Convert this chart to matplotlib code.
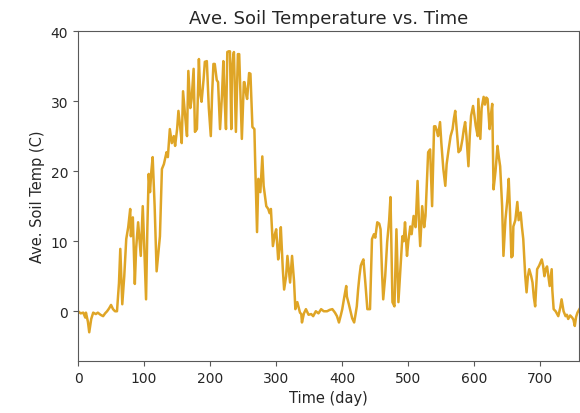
import matplotlib
matplotlib.use("Agg")
import matplotlib.pyplot as plt

# days and average soil temperature
days = [0, 4, 8, 11, 12, 15, 17, 20, 23, 27, 30, 34, 38, 41, 44, 47, 50, 53, 56, 59,
        62, 64, 67, 70, 73, 76, 79, 80, 83, 86, 88, 91, 95, 98, 100, 103, 105, 107, 109, 111,
        113, 116, 119, 124, 127, 130, 134, 136, 139, 142, 145, 147, 150, 152, 155, 157, 159, 162, 165, 167,
        170, 172, 175, 177, 180, 183, 185, 187, 190, 192, 195, 198, 201, 203, 205, 207, 210, 212, 215, 218,
        220, 222, 224, 226, 228, 230, 232, 233, 235, 236, 239, 242, 244, 248, 251, 252, 255, 256, 259, 261,
        264, 267, 268, 271, 273, 276, 279, 281, 283, 285, 288, 290, 292, 295, 298, 300, 303, 305, 307, 310,
        312, 315, 317, 319, 321, 324, 327, 329, 332, 336, 338, 339, 342, 345, 349, 353, 356, 360, 364, 368,
        372, 377, 381, 385, 389, 392, 395, 398, 400, 403, 406, 407, 410, 413, 415, 418, 420, 422, 424, 426,
        428, 430, 432, 435, 438, 442, 445, 448, 450, 453, 456, 458, 460, 462, 465, 468, 471, 473, 476, 479,
        482, 485, 488, 491, 493, 495, 498, 500, 503, 505, 508, 511, 514, 516, 518, 521, 524, 526, 528, 530,
        533, 536, 539, 541, 543, 545, 548, 550, 553, 556, 558, 561, 564, 567, 569, 571, 574, 576, 579, 582,
        584, 586, 588, 591, 593, 595, 598, 600, 602, 605, 606, 609, 611, 614, 616, 618, 620, 623, 625, 627,
        629, 632, 635, 637, 639, 642, 644, 647, 650, 652, 654, 656, 658, 659, 662, 665, 667, 670, 672, 674,
        677, 679, 681, 683, 686, 688, 690, 692, 695, 698, 702, 704, 706, 708, 710, 712, 714, 717, 718, 720,
        723, 727, 730, 732, 735, 738, 740, 742, 745, 748, 750, 752, 754, 756, 759]
temps = [0, -0.3, -0.2, -0.9, -0.2, -1.5, -3, -1.1, -0.2, -0.4, -0.2, -0.5, -0.7, -0.3, 0, 0.4, 0.9, 0.3, 0, 0,
         4, 8.9, 1, 5, 10.3, 12, 14.6, 10.7, 13.4, 3.9, 9, 12.7, 7.9, 15, 10, 1.7, 12, 19.6, 17, 20,
         22, 15, 5.7, 10.7, 20.3, 21, 22.7, 22, 26, 24, 25, 23.6, 26, 28.6, 26, 24, 31.4, 28, 25, 34.3,
         29, 30.3, 34.6, 25.6, 26, 36, 31, 29.9, 33, 35.6, 35.7, 29, 25, 31, 35.3, 35.3, 33, 32.7, 26, 31,
         35.7, 30, 26, 37, 37.1, 37.1, 26, 34, 36.4, 37, 25.6, 36.7, 36.7, 24.6, 32.7, 32.7, 30.7, 30.3, 34, 33.9,
         26.3, 26, 22, 11.3, 18.9, 17, 22.1, 17.9, 16.5, 15, 14.6, 14, 14.6, 9.3, 11, 11.7, 7.4, 9, 12, 6,
         3.1, 5, 7.9, 6, 4.1, 7.9, 4.3, 0.3, 1.3, -0.2, -0.4, -1.6, -0.3, 0.3, -0.5, -0.4, -0.7, 0, -0.3, 0.3,
         0, 0, 0.2, 0.3, -0.2, -0.7, -1.6, -0.5, 0.3, 2, 3.6, 2.1, 1, -0.2, -1, -1.6, -0.5, 0.7, 3.1, 5,
         6.5, 7, 7.4, 4, 0.3, 0.3, 10.3, 11, 10.5, 12.7, 12.5, 11.7, 6, 1.7, 5, 9.9, 13, 16.3, 1.3, 0.7,
         11.7, 1.3, 6, 10.7, 10, 12.7, 7.9, 10, 12.1, 11, 13.6, 12, 18.6, 13, 9.3, 15, 12, 13.6, 18, 22.7,
         23.1, 15, 26.4, 26.4, 25.8, 25, 27, 24, 20.3, 17.9, 21, 23.1, 25, 26, 27.5, 28.6, 25, 22.7, 23, 24.6,
         26, 27, 25, 20.7, 25, 27.9, 29.3, 28, 26.5, 25, 30.3, 24.6, 29, 30.6, 29.5, 30.5, 30.3, 26, 28, 29.6,
         17.4, 20, 23.6, 22, 20.7, 15, 7.9, 13.1, 16, 18.9, 14, 7.7, 7.9, 12.1, 13, 15.6, 13, 14.1, 12, 10.3,
         5, 2.7, 5, 6, 5, 4.1, 2, 0.7, 6, 6.5, 7.4, 6.5, 5, 6, 6.4, 5, 3.6, 6, 3, 0.3,
         0, -0.7, 0.5, 1.7, 0, -0.7, -0.5, -1.1, -0.6, -0.9, -1.2, -2.1, -0.8, -0.2, 0.3]

fig, ax = plt.subplots(figsize=(5.8, 4.14), dpi=100)
fig.subplots_adjust(left=0.1345, right=0.999, bottom=0.1256, top=0.9227)

ax.plot(days, temps, color='#dfa526', linewidth=1.8)
ax.set_xlim(0, 759)
ax.set_ylim(-7.1, 40)
ax.set_xticks([0, 100, 200, 300, 400, 500, 600, 700])
ax.set_yticks([0, 10, 20, 30, 40])

for s in ax.spines.values():
    s.set_color('0.35')
ax.tick_params(colors='0.15', labelsize=10)
ax.tick_params(axis='both', color='0.35')

ax.set_title('Ave. Soil Temperature vs. Time', fontsize=13, color='0.15')
ax.set_xlabel('Time (day)', fontsize=10.5, color='0.15')
ax.set_ylabel('Ave. Soil Temp (C)', fontsize=10.5, color='0.15')

plt.savefig('out.png', dpi=100)
